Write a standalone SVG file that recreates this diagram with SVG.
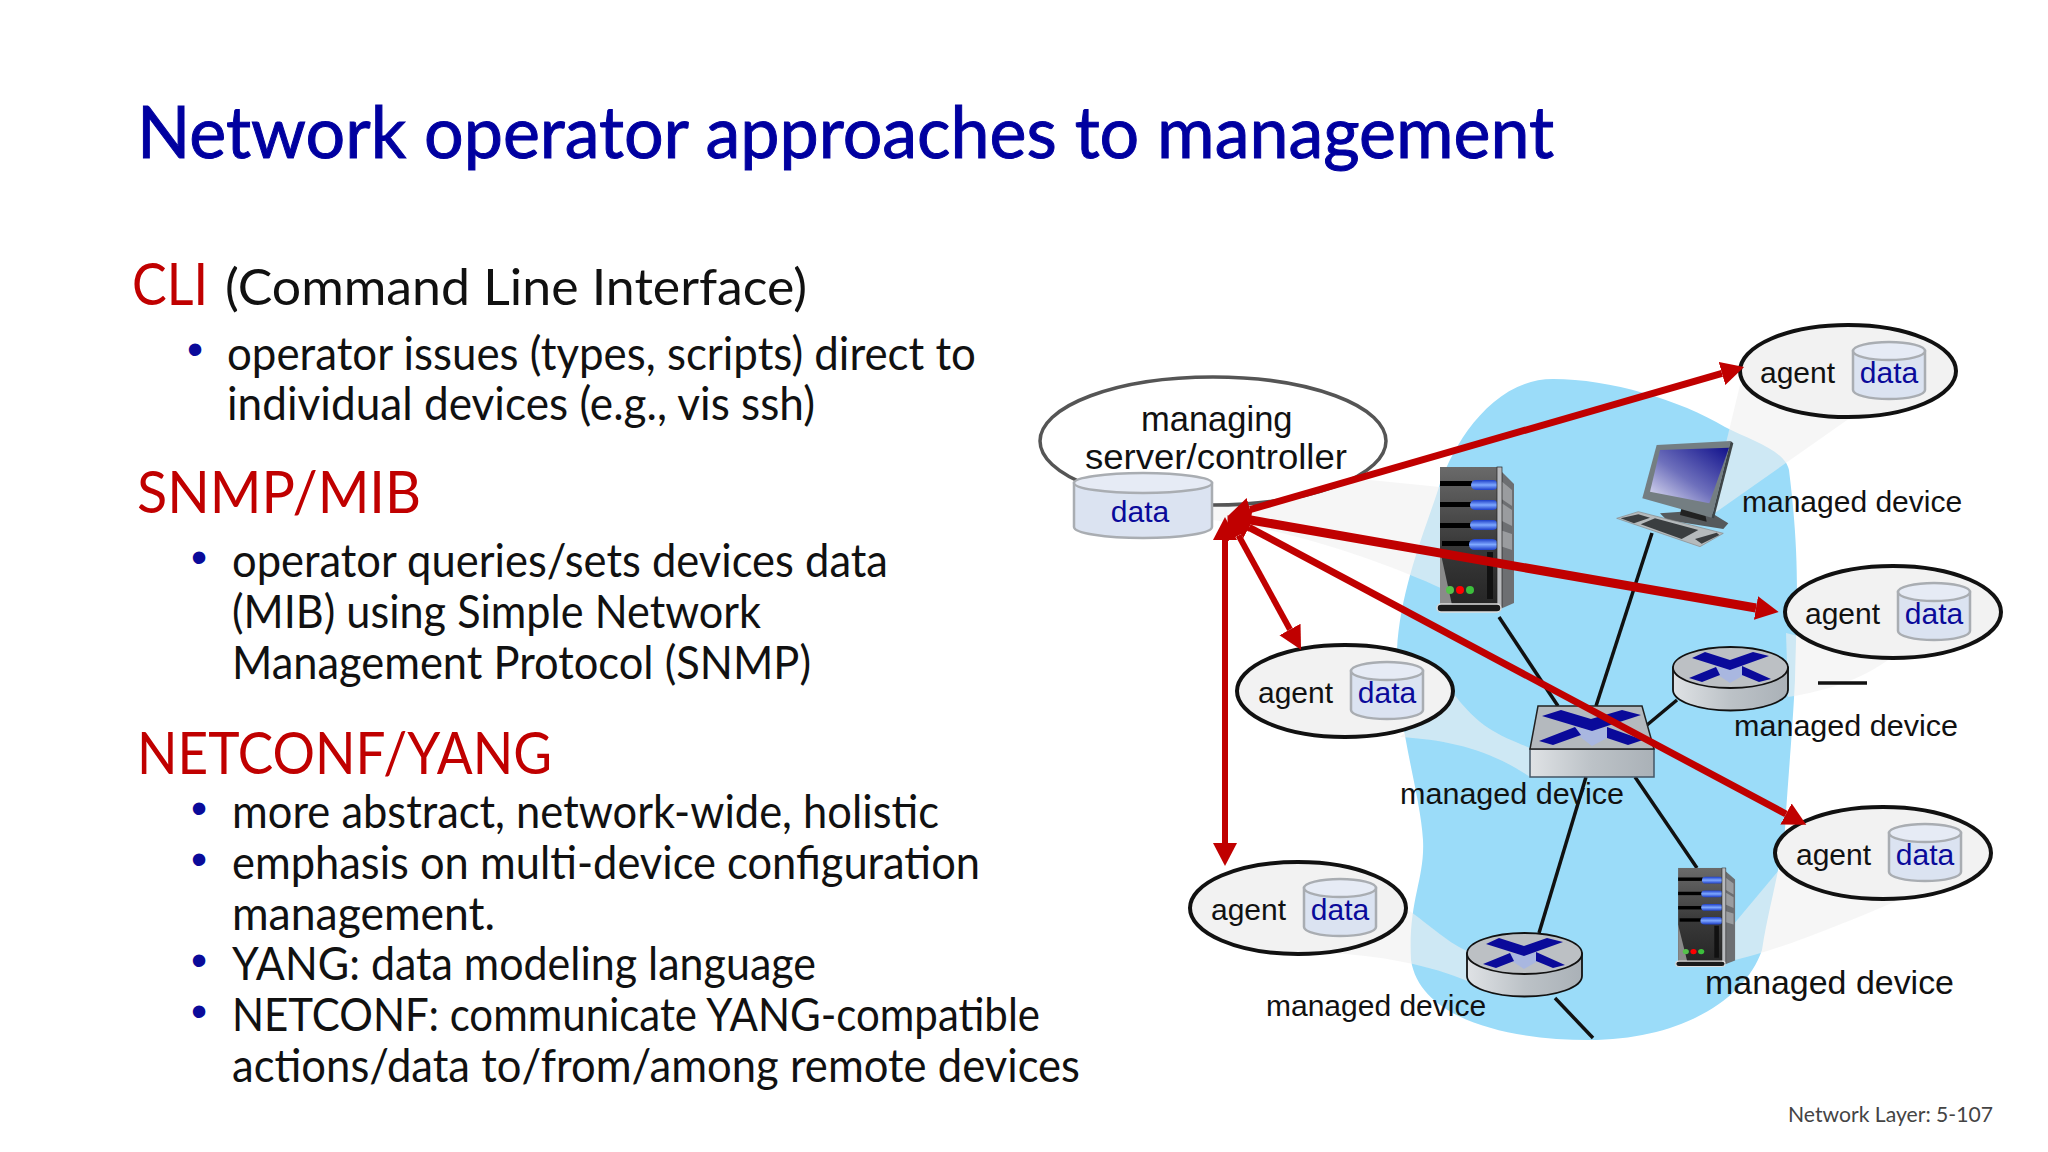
<svg xmlns="http://www.w3.org/2000/svg" xmlns:xlink="http://www.w3.org/1999/xlink" width="2048" height="1152" viewBox="0 0 2048 1152">
<style>
.cal{font-family:"Lato","Carlito","Liberation Sans",sans-serif}
.title{font-size:72px;fill:#0000a0;stroke:#0000a0;stroke-width:1}
.head{font-size:58px;fill:#c00000}
.body{font-size:46px;fill:#111}
.bul{font-size:46px;fill:#0a0a9a;font-family:"Liberation Sans",sans-serif}
.lab{font-family:"Liberation Sans",Arial,sans-serif;font-size:30px;fill:#111}
.dat{font-family:"Liberation Sans",Arial,sans-serif;font-size:30px;fill:#0a0a9a;text-anchor:middle}
.amb{fill:#f2f2f2;stroke:#111;stroke-width:4}
.call{fill:#f0f0f0;opacity:.6}
.wire{stroke:#111;stroke-width:3.5;fill:none}
.red{stroke:#c00000;fill:none}
</style>
<defs>
<marker id="ah" markerUnits="userSpaceOnUse" markerWidth="24" markerHeight="26" refX="0" refY="13" orient="auto-start-reverse"><path d="M0,1 L23,13 L0,25 Z" fill="#c00000"/></marker>
<linearGradient id="metal" x1="0" x2="1" y1="0" y2="0"><stop offset="0" stop-color="#dfe2e5"/><stop offset=".5" stop-color="#bcc2c7"/><stop offset="1" stop-color="#aab1b7"/></linearGradient>
<linearGradient id="srvT" x1="0" x2="0" y1="0" y2="1"><stop offset="0" stop-color="#6a6a6a"/><stop offset=".55" stop-color="#3a3a3a"/><stop offset="1" stop-color="#262626"/></linearGradient>
<linearGradient id="led" x1="0" x2="0" y1="0" y2="1"><stop offset="0" stop-color="#1d3ec8"/><stop offset=".5" stop-color="#7fa8ff"/><stop offset="1" stop-color="#1d3ec8"/></linearGradient>
<linearGradient id="scr" x1="1" x2="0" y1="0" y2="1"><stop offset="0" stop-color="#11118c"/><stop offset=".55" stop-color="#6e70bc"/><stop offset="1" stop-color="#e6e6f6"/></linearGradient>
<g id="cyl">
<path d="M0,9 V48 A36,9 0 0 0 72,48 V9 Z" fill="#dbe3f1" stroke="#a9adb2" stroke-width="2.5"/>
<ellipse cx="36" cy="9" rx="36" ry="9" fill="#e6ebf5" stroke="#a9adb2" stroke-width="2.5"/>
</g>
<g id="server">
<path d="M68,8 L84,24 V143 L68,150 Z" fill="#6d6f72"/>
<path d="M70,20 L82,30 V46 L70,38 Z M70,42 L82,50 V66 L70,60 Z M70,70 L82,74 V90 L70,86 Z" fill="#9a9c9f"/>
<rect x="10" y="7" width="58" height="138" fill="url(#srvT)"/>
<path d="M10,90 V145 H22 Z" fill="#8a8a8a"/>
<rect x="10" y="21" width="32" height="5" fill="#000"/><rect x="41" y="20" width="27" height="10" rx="5" fill="url(#led)"/>
<rect x="10" y="42" width="32" height="5" fill="#000"/><rect x="40" y="40" width="28" height="10" rx="5" fill="url(#led)"/>
<rect x="10" y="63" width="32" height="5" fill="#000"/><rect x="40" y="60" width="28" height="10" rx="5" fill="url(#led)"/>
<rect x="12" y="81" width="30" height="5" fill="#000"/><rect x="39" y="79" width="29" height="11" rx="5.500" fill="url(#led)"/>
<rect x="57" y="92" width="6" height="47" fill="#111"/>
<rect x="67" y="7" width="5" height="140" fill="#b8babd" stroke="#222" stroke-width=".7"/>
<circle cx="20" cy="130" r="4" fill="#55c24b"/><circle cx="30" cy="130" r="4" fill="#f00"/><circle cx="40" cy="130" r="4" fill="#3cbf3c"/>
<rect x="7" y="144" width="64" height="8" rx="4" fill="#1a1a1a" stroke="#ddd" stroke-width="1.500"/>
</g>
<g id="router">
<path d="M0,20.500 V43 A57.500,20.500 0 0 0 115,43 V20.500 Z" fill="url(#metal)" stroke="#111" stroke-width="1.800"/>
<ellipse cx="57.500" cy="20.500" rx="57.500" ry="20.500" fill="#bcc0c4" stroke="#111" stroke-width="1.800"/>
<path d="M42,20 L57,22 L71,19 L71,28 L57,36 L45,28 Z" fill="#a9b7e0"/>
<path d="M19,11 L32,5 L57,13 L80,5 L96,9 L57,23 Z M43,20 L16,31 L29,35 L47,28 Z M69,19 L98,32 L86,35 L69,28 Z" fill="#0a0a9a"/>
</g>
</defs>
<rect width="2048" height="1152" fill="#fff"/>

<g id="text">
<text class="cal title" x="137" y="158" textLength="1417" lengthAdjust="spacingAndGlyphs">Network operator approaches to management</text>
<text class="cal head" x="132" y="305" textLength="76" lengthAdjust="spacingAndGlyphs">CLI</text>
<text class="cal body" style="font-size:51px" x="225" y="305" textLength="582" lengthAdjust="spacingAndGlyphs">(Command Line Interface)</text>
<text class="bul" x="187" y="365">•</text>
<text class="cal body" x="227" y="370" textLength="749" lengthAdjust="spacingAndGlyphs">operator issues (types, scripts) direct to</text>
<text class="cal body" x="227" y="420" textLength="588" lengthAdjust="spacingAndGlyphs">individual devices (e.g., vis ssh)</text>
<text class="cal head" x="137" y="513" textLength="284" lengthAdjust="spacingAndGlyphs">SNMP/MIB</text>
<text class="bul" x="191" y="573">•</text>
<text class="cal body" x="232" y="577" textLength="656" lengthAdjust="spacingAndGlyphs">operator queries/sets devices data</text>
<text class="cal body" x="232" y="628" textLength="529" lengthAdjust="spacingAndGlyphs">(MIB) using Simple Network</text>
<text class="cal body" x="232" y="679" textLength="579" lengthAdjust="spacingAndGlyphs">Management Protocol (SNMP)</text>
<text class="cal head" x="137" y="774" textLength="415" lengthAdjust="spacingAndGlyphs">NETCONF/YANG</text>
<text class="bul" x="191" y="824">•</text>
<text class="cal body" x="232" y="828" textLength="707" lengthAdjust="spacingAndGlyphs">more abstract, network-wide, holistic</text>
<text class="bul" x="191" y="875">•</text>
<text class="cal body" x="232" y="879" textLength="748" lengthAdjust="spacingAndGlyphs">emphasis on multi-device configuration</text>
<text class="cal body" x="232" y="930" textLength="263" lengthAdjust="spacingAndGlyphs">management.</text>
<text class="bul" x="191" y="976">•</text>
<text class="cal body" x="232" y="980" textLength="584" lengthAdjust="spacingAndGlyphs">YANG: data modeling language</text>
<text class="bul" x="191" y="1027">•</text>
<text class="cal body" x="232" y="1031" textLength="808" lengthAdjust="spacingAndGlyphs">NETCONF: communicate YANG-compatible</text>
<text class="cal body" x="232" y="1082" textLength="848" lengthAdjust="spacingAndGlyphs">actions/data to/from/among remote devices</text>
<text class="cal" style="font-size:21px;fill:#444" x="1788" y="1122" textLength="205" lengthAdjust="spacingAndGlyphs">Network Layer: 5-107</text>
</g>

<path id="cloud" fill="#9bdcf9" d="M1553,379 C1610,379 1680,400 1725,427 C1750,440 1785,450 1789,470 C1800,560 1797,600 1795,680 C1792,740 1787,790 1785,830 C1778,880 1768,910 1762,950 C1745,1000 1680,1040 1589,1040 C1510,1040 1420,1020 1411,960 C1408,900 1425,880 1423,840 C1420,790 1397,730 1397,650 C1400,590 1425,530 1438,490 C1450,450 1490,379 1553,379 Z"/>

<g id="callouts">
<path class="call" d="M1213,490 L1370,480 L1440,487 L1445,590 C1380,560 1290,530 1213,520 Z"/>
<path class="call" d="M1740,385 L1726,443 L1712,515 L1850,418 Z"/>
<path class="call" d="M1786,633 L1891,658 C1860,680 1830,690 1788,697 Z"/>
<path class="call" d="M1451,690 C1480,730 1500,735 1530,748 L1530,777 C1490,750 1450,740 1400,737 Z"/>
<path class="call" d="M1779,870 L1899,900 C1840,925 1780,950 1727,962 L1733,925 Z"/>
<path class="call" d="M1408,910 C1430,925 1450,945 1470,952 L1470,982 C1430,965 1380,955 1325,953 Z"/>
</g>

<g id="wires">
<line class="wire" x1="1499" y1="617" x2="1558" y2="706"/>
<line class="wire" x1="1652" y1="533" x2="1596" y2="706"/>
<line class="wire" x1="1677" y1="700" x2="1647" y2="725"/>
<line class="wire" x1="1818" y1="683" x2="1867" y2="683"/>
<line class="wire" x1="1586" y1="777" x2="1539" y2="933"/>
<line class="wire" x1="1635" y1="777" x2="1697" y2="868"/>
<line class="wire" x1="1555" y1="998" x2="1593" y2="1038"/>
</g>

<g id="server1"><use href="#server" transform="translate(1430,460)"/></g>
<g id="server2"><use href="#server" transform="translate(1670.400,863.200) scale(.77,.68)"/></g>

<g id="computer" transform="translate(1610,435) scale(.3333)">
<path d="M150,235 L290,225 L355,265 L340,282 L170,255 Z" fill="#55595c"/>
<path d="M215,215 L285,235 L290,260 L210,240 Z" fill="#222"/>
<path d="M140,30 L362,18 L305,248 L97,190 Z" fill="#747e82"/>
<path d="M362,18 L370,25 L312,250 L305,248 Z" fill="#3e4548"/>
<path d="M150,45 L357,38 L298,205 L120,170 Z" fill="url(#scr)"/>
<path d="M20,250 L85,230 L340,295 L270,335 Z" fill="#b5babc" stroke="#888" stroke-width="2"/>
<path d="M32,250 L85,238 L120,248 L72,265 Z M92,268 L135,250 L265,285 L215,312 Z M255,312 L320,293 L328,300 L275,326 Z" fill="#3a3e40"/>
</g>

<g id="router1"><use href="#router" transform="translate(1673,647)"/></g>
<g id="router2"><use href="#router" transform="translate(1467,933)"/></g>

<g id="switch">
<path d="M1530,749 H1654 V777 H1530 Z" fill="url(#metal)" stroke="#456" stroke-width="1.500"/>
<path d="M1538,706 H1642 L1654,749 H1530 Z" fill="#b4b9be" stroke="#222" stroke-width="1.500"/>
<path d="M1573,727 L1592,730 L1609,727 L1609,737 L1592,746 L1579,736 Z" fill="#a9b7e0"/>
<path d="M1542,716 L1561,710 L1591,719 L1622,710 L1641,715 L1592,731 Z M1575,727 L1539,741 L1553,745 L1581,735 Z M1607,727 L1643,740 L1628,745 L1607,738 Z" fill="#0a0a9a"/>
</g>

<g id="manager">
<ellipse cx="1213" cy="441" rx="173" ry="64" fill="#fff" stroke="#555" stroke-width="3.500"/>
<text class="lab" style="font-size:34.500px" x="1141" y="431">managing</text>
<text class="lab" style="font-size:34.500px" x="1085" y="469" textLength="262" lengthAdjust="spacingAndGlyphs">server/controller</text>
<path d="M1074,483 V527 A69,11 0 0 0 1212,527 V483 Z" fill="#dbe3f1" stroke="#a9adb2" stroke-width="2.500"/>
<ellipse cx="1143" cy="483" rx="69" ry="10" fill="#e6ebf5" stroke="#a9adb2" stroke-width="2.500"/>
<text class="dat" x="1140" y="522">data</text>
</g>

<g id="agent1"><ellipse class="amb" cx="1848" cy="371" rx="108" ry="46"/><text class="lab" x="1760" y="383">agent</text><use href="#cyl" transform="translate(1853,342)"/><text class="dat" x="1889" y="383">data</text></g>
<g id="agent2"><ellipse class="amb" cx="1893" cy="612" rx="108" ry="46"/><text class="lab" x="1805" y="624">agent</text><use href="#cyl" transform="translate(1898,583)"/><text class="dat" x="1934" y="624">data</text></g>
<g id="agent3"><ellipse class="amb" cx="1345" cy="691" rx="108" ry="46"/><text class="lab" x="1258" y="703">agent</text><use href="#cyl" transform="translate(1351,662)"/><text class="dat" x="1387" y="703">data</text></g>
<g id="agent4"><ellipse class="amb" cx="1883" cy="853" rx="108" ry="46"/><text class="lab" x="1796" y="865">agent</text><use href="#cyl" transform="translate(1889,824)"/><text class="dat" x="1925" y="865">data</text></g>
<g id="agent5"><ellipse class="amb" cx="1298" cy="908" rx="108" ry="46"/><text class="lab" x="1211" y="920">agent</text><use href="#cyl" transform="translate(1304,879)"/><text class="dat" x="1340" y="920">data</text></g>

<g id="labels">
<text class="lab" x="1742" y="512">managed device</text>
<text class="lab" x="1734" y="736" textLength="224" lengthAdjust="spacingAndGlyphs">managed device</text>
<text class="lab" x="1400" y="804" textLength="224" lengthAdjust="spacingAndGlyphs">managed device</text>
<text class="lab" style="font-size:34px" x="1705" y="994" textLength="249" lengthAdjust="spacingAndGlyphs">managed device</text>
<text class="lab" x="1266" y="1016">managed device</text>
</g>

<g id="connectors">
<line class="red" stroke-width="7" x1="1250" y1="509.600" x2="1722" y2="373.400" marker-start="url(#ah)" marker-end="url(#ah)"/>
<line class="red" stroke-width="9" x1="1250.700" y1="520" x2="1756" y2="608" marker-start="url(#ah)" marker-end="url(#ah)"/>
<line class="red" stroke-width="6" x1="1238.500" y1="535.400" x2="1290" y2="629.500" marker-start="url(#ah)" marker-end="url(#ah)"/>
<line class="red" stroke-width="7" x1="1249" y1="527.300" x2="1786" y2="814" marker-start="url(#ah)" marker-end="url(#ah)"/>
<line class="red" stroke-width="6" x1="1225" y1="540" x2="1225" y2="843" marker-start="url(#ah)" marker-end="url(#ah)"/>
</g>
</svg>
